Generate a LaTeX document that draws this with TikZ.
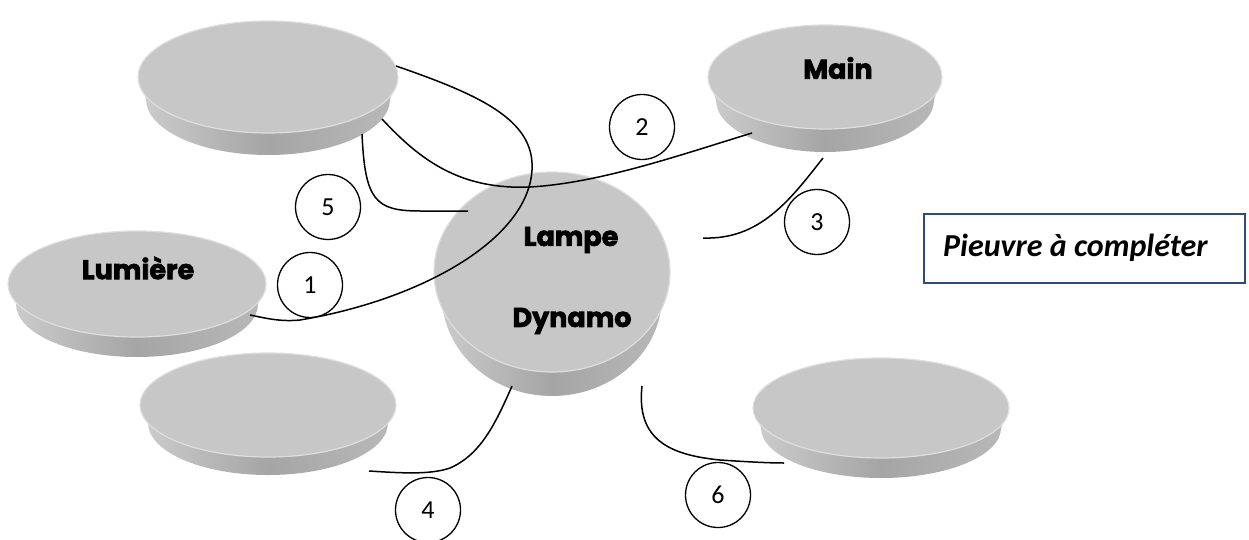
\documentclass[tikz,border=0pt]{standalone}
\usepackage{fontspec}
\setmainfont{Carlito}
\newfontfamily\lblfont{Poppins}[BoldFeatures={FakeBold=2.6}]
\usetikzlibrary{shapes.geometric,calc}
\definecolor{facegray}{RGB}{199,199,199}
\definecolor{rimgray}{RGB}{222,222,222}
\definecolor{sideL}{RGB}{205,205,205}
\definecolor{sideM}{RGB}{165,165,165}
\definecolor{sideR}{RGB}{185,185,185}
\definecolor{boxblue}{RGB}{47,75,125}
\tikzset{
  diskface/.style={ellipse, inner sep=0pt, fill=facegray, draw=rimgray, line width=1.2pt},
  numcirc/.style={circle, draw=black, line width=1.3pt, minimum size=65pt, inner sep=0pt, font=\fontsize{26}{30}\selectfont},
  disklabel/.style={font=\lblfont\bfseries\fontsize{27}{32}\selectfont, inner sep=0pt},
  conn/.style={draw=black, line width=1.5pt},
  titlebox/.style={draw=boxblue, line width=1.5pt, minimum width=321pt, minimum height=69pt, inner sep=0pt}
}
% name, cx, cy, rx, ry, thickness, bevel
\newcommand\mydisk[7]{%
  \pgfmathsetmacro\dkXl{#2-#4}\pgfmathsetmacro\dkXr{#2+#4}%
  \pgfmathsetmacro\dkA{#4-#7}%
  \pgfmathsetmacro\dkBl{#2-\dkA}\pgfmathsetmacro\dkBr{#2+\dkA}%
  \pgfmathsetmacro\dkYb{#3+#6}\pgfmathsetmacro\dkYbb{#3+#6+#5}%
  \pgfmathsetmacro\dkKb{#3+#6+0.5523*#5}%
  \pgfmathsetmacro\dkKl{#2-0.5523*\dkA}\pgfmathsetmacro\dkKr{#2+0.5523*\dkA}%
  \shade[left color=sideL, right color=sideR, middle color=sideM]
    (\dkXl,#3) -- (\dkBl,\dkYb) .. controls (\dkBl,\dkKb) and (\dkKl,\dkYbb) .. (#2,\dkYbb)
    .. controls (\dkKr,\dkYbb) and (\dkBr,\dkKb) .. (\dkBr,\dkYb) -- (\dkXr,#3) -- cycle;
  \node[diskface, minimum width={2*#4pt}, minimum height={2*#5pt}] (#1) at (#2,#3) {};
}
\begin{document}
\begin{tikzpicture}[x=1pt,y=-1pt]
\useasboundingbox (0,0) rectangle (1249,540);
% disks
\mydisk{tl}{268}{77}{130}{56}{22}{8}
\mydisk{main}{825}{77}{117}{52}{23}{8}
\mydisk{lum}{137}{284}{129}{53}{20}{8}
\mydisk{ctr}{552}{272}{118}{100}{24}{8}
\mydisk{bl}{268}{405}{128}{52}{18}{8}
\mydisk{br}{881}{408}{128}{50}{20}{8}
% labels
\node[disklabel] (lmain) at (838,68) {Main};
\node[disklabel] (llum) at (138,268) {Lumière};
\node[disklabel] (llampe) at (571,240) {Lampe};
\node[disklabel] (ldyn) at (572,321) {Dynamo};
% connectors
\draw[conn] ($(tl)+(128,-11)$) .. controls (480,95) and (535,120) .. (532,170)
  .. controls (528,240) and (420,300) .. (300,320)
  .. controls (280,322) and (265,318) .. ($(lum)+(113,31)$);
\draw[conn] ($(tl)+(114,42)$) .. controls (420,160) and (460,190) .. (530,187)
  .. controls (600,183) and (680,155) .. ($(main)+(-73,56)$);
\draw[conn] ($(ctr)+(151,-34)$) .. controls (760,240) and (790,200) .. ($(main)+(-2,81)$);
\draw[conn] ($(ctr)+(-40,114)$) .. controls (495,425) and (480,455) .. (450,468)
  .. controls (430,475) and (400,473) .. ($(bl)+(101,66)$);
\draw[conn] ($(ctr)+(90,114)$) .. controls (636,440) and (670,455) .. (720,460)
  .. controls (750,462) and (770,463) .. ($(br)+(-97,55)$);
\draw[conn] ($(tl)+(94,57)$) .. controls (365,200) and (375,211) .. (420,211) -- ($(ctr)+(-84,-61)$);
% numbered circles
\node[numcirc] (n1) at (310,285) {1};
\node[numcirc] (n2) at (642,127) {2};
\node[numcirc] (n3) at (817,222) {3};
\node[numcirc] (n4) at (428,510) {4};
\node[numcirc] (n5) at (328,207) {5};
\node[numcirc] (n6) at (718,495) {6};
% title box
\node[titlebox] (box) at (1084.5,248.5) {};
\node[font=\bfseries\itshape\fontsize{32}{38}\selectfont, anchor=west, inner sep=0pt] (title) at (943,248) {Pieuvre à compléter};
\end{tikzpicture}
\end{document}
